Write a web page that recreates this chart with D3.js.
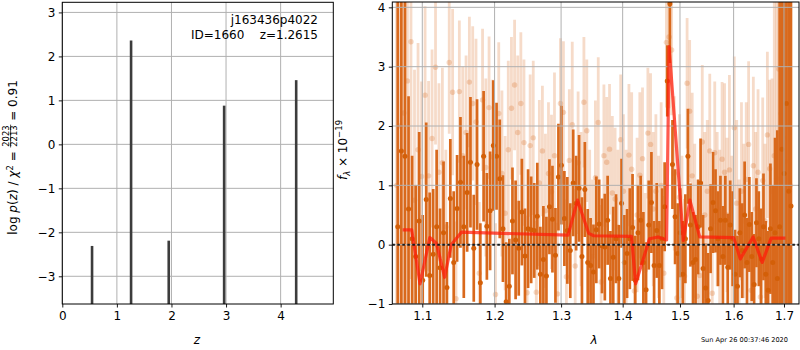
<!DOCTYPE html>
<html>
<head>
<meta charset="utf-8">
<script src="https://cdn.jsdelivr.net/npm/d3@7"></script>
<style>
  body { margin: 0; background: #fff; }
  svg { font-family: "DejaVu Sans", sans-serif; }
</style>
</head>
<body>
<script>
// ---- data ----
// redshift peaks of p(z)
const PZ_Z = [0.545, 1.26, 1.95, 2.965, 4.285];
const PZ_PEAK = [-2.31, 2.36, -2.19, 0.88, 1.46];

// spectrum, first (dark) set, regular wavelength grid
const DARK_LAM0 = 1.068;
const LAM_STEP = 0.00465;
const DARK_FLUX = [
  0.3, 1.58, 1.49, 0.6, 0.1, -0.2, 0.4, -0.6, 0.76, -0.52,
  -0.16, 0.3, -0.39, 0.2, -0.72, 0.78, -0.3, 0.61, 1.05, 0.3,
  0.88, 1.39, -0.06, 1.35, -0.64, 1.49, 0.31, 0.57, 1.67, 1.49,
  1.11, 0.27, -0.96, -0.7, 0.4, 0.08, -0.06, 0.55, -0.19, 0.27,
  0.25, 0.24, 0.48, -0.5, -0.25, -0.53, 0.64, 0.43, -0.18, 1.14,
  1.34, 0.44, 0.24, -0.1, 1.04, 0.7, 0.95, -0.2, 0.93, -0.3,
  -0.35, -0.46, 0.25, 0.35, -0.02, -0.04, 0.41, -0.57, -0.21, 0.1,
  -0.57, 0.7, -0.3, -0.15, 0.1, 0.29, -0.6, 0.2, 0.41, -0.3,
  -0.76, 0.33, 0.71, -0.35, 0.24, -0.35, 0.1, 0.64, 2.76, 4.06,
  1.35, 0.47, -0.15, 0.2, -0.5, 0.1, 1.49, 0.33, -0.3, -0.25,
  0.3, 1.04, -0.4, -0.73, -0.94, 0.27, 0.71, 0.57, 0.1, 0.41,
  -0.2, 0.41, -0.38, 0.33, 0.1, -0.5, -0.7, 0.2, -0.1, 0.5,
  -0.3, 0.34, -0.2, -0.67, 0.37, 0.1, -0.24, 0.3, -0.5, -0.77,
  0.27, -0.3, 0.2, -0.57, 0.3, 1.61, 1.2, 2.38, 0.9, 0.65
];
const DARK_ERR = [
  9, 9, 9, 1.9, 1.4, 1.2, 1.5, 1.1, 1.3, 1.4,
  1.1, 1.3, 1.0, 1.2, 1.1, 1.0, 1.2, 0.9, 1.1, 1.2,
  1.0, 1.1, 0.9, 1.1, 1.0, 1.1, 0.9, 1.0, 1.1, 0.9,
  1.0, 0.9, 1.0, 0.8, 0.9, 1.0, 0.8, 0.9, 0.8, 1.0,
  0.9, 0.8, 0.9, 0.8, 0.9, 1.0, 0.8, 0.9, 0.8, 0.9,
  1.0, 0.8, 0.9, 0.8, 0.9, 0.8, 0.9, 1.0, 0.8, 0.9,
  0.8, 0.8, 0.9, 0.75, 0.8, 0.9, 0.75, 0.8, 0.85, 0.75,
  0.9, 0.75, 0.8, 0.75, 0.85, 0.9, 0.75, 0.8, 0.75, 0.85,
  0.8, 0.75, 0.85, 0.75, 0.8, 0.75, 0.85, 0.75, 0.6, 1.0,
  0.75, 0.8, 0.85, 0.75, 0.9, 0.75, 0.8, 0.7, 0.85, 0.75,
  0.8, 0.75, 0.9, 0.75, 0.8, 0.75, 0.85, 0.7, 0.8, 0.75,
  0.85, 0.75, 0.9, 0.75, 0.8, 0.75, 0.85, 0.75, 0.8, 0.9,
  0.75, 0.8, 0.75, 0.85, 0.75, 0.8, 0.85, 0.9, 0.9, 1.0,
  1.1, 1.3, 1.6, 2.5, 4, 6, 8, 9, 9, 9
];

// second (light) set, offset grid
const LIGHT_LAM0 = 1.0665;
const LIGHT_FLUX = [
  1.0, 2.0, 2.22, 2.76, 3.42, 0.75, 1.6, 1.15, 2.52, 1.16,
  1.79, 2.99, 1.22, 1.38, 0.3, 3.07, 2.57, -0.91, 2.58, 1.5,
  1.89, 2.74, 2.38, 2.07, -0.48, 2.44, 1.3, 2.31, 1.48, -0.84,
  2.21, 1.2, 0.53, 1.6, 2.3, 2.69, 1.89, 2.38, 1.72, -0.81,
  1.67, 1.8, -0.8, 1.04, 1.58, 0.57, 1.2, 0.89, 1.5, -0.83,
  2.38, 2.23, -0.54, 1.42, 2.02, -0.36, 1.38, 0.6, 2.4, 1.92,
  0.4, -0.2, 1.13, 2.06, -0.63, 1.5, 1.39, 1.61, 0.87, 0.77,
  0.3, 1.77, 0.9, 0.2, 1.51, 1.27, -0.78, 0.5, 1.17, 1.45,
  -0.43, 1.88, 1.69, 0.6, 0.9, 0.3, 1.0, -0.48, 3.41, 3.5,
  3.28, 1.2, -0.9, 0.8, 0.3, -0.53, 2.72, 2.25, 1.16, 0.4,
  -0.87, -0.52, 1.73, 0.5, 0.9, 1.58, -0.82, 1.55, 0.6, 0.2,
  1.44, 1.22, 0.5, 1.26, 0.2, 1.97, 0.7, -0.2, 0.9, 0.4,
  1.1, 1.69, -0.77, 1.33, 0.6, 1.22, -0.88, 1.08, 0.4, 1.85,
  1.28, 0.9, 1.5, 1.11, 2.96, 2.21, 1.8, 1.4, 2.0, 1.0
];
const LIGHT_ERR = [
  9, 9, 9, 6, 4, 2.2, 1.8, 1.6, 1.5, 1.6,
  1.5, 1.3, 1.5, 1.6, 1.3, 1.2, 1.4, 1.3, 1.2, 1.5,
  1.3, 1.1, 1.3, 1.4, 1.2, 1.2, 1.5, 1.2, 1.3, 1.2,
  1.2, 1.4, 1.3, 1.5, 1.2, 1.1, 1.3, 1.2, 1.4, 1.3,
  1.2, 1.3, 1.2, 1.4, 1.1, 1.3, 1.2, 1.3, 1.4, 1.2,
  1.1, 1.2, 1.3, 1.2, 1.4, 1.3, 1.2, 1.3, 1.1, 1.2,
  1.2, 1.3, 1.3, 1.1, 1.3, 1.2, 1.1, 1.1, 1.3, 1.2,
  1.3, 1.1, 1.3, 1.4, 1.2, 1.3, 1.2, 1.3, 1.4, 1.2,
  1.3, 1.1, 1.2, 1.3, 1.3, 1.2, 1.4, 1.3, 1.1, 1.2,
  1.1, 1.3, 1.3, 1.4, 1.2, 1.3, 1.1, 1.2, 1.4, 1.3,
  1.3, 1.2, 1.3, 1.4, 1.2, 1.3, 1.3, 1.2, 1.3, 1.4,
  1.3, 1.5, 1.3, 1.6, 1.3, 1.2, 1.4, 1.3, 1.5, 1.3,
  1.3, 1.4, 1.3, 1.5, 1.3, 1.4, 1.3, 1.4, 1.3, 1.4,
  1.5, 1.9, 2.6, 3.5, 5, 7, 9, 9, 9, 9
];

// best-fit model
const MODEL_LAM = [1.0743, 1.086, 1.097, 1.110, 1.119, 1.130, 1.139, 1.153, 1.311, 1.326,
  1.344, 1.352, 1.415, 1.422, 1.446, 1.461, 1.470, 1.476, 1.4805, 1.506,
  1.518, 1.536, 1.600, 1.613, 1.638, 1.656, 1.674, 1.703];
const MODEL_FLUX = [0.25, 0.25, -0.66, 0.12, 0.02, -0.55, 0.0, 0.21, 0.16, 0.75,
  0.19, 0.15, 0.14, -0.66, 0.10, 0.13, 0.10, 0.08, 3.34, 0.07,
  0.75, 0.13, 0.12, -0.24, 0.13, -0.30, 0.11, 0.11];

const PZ_XTICKS = [0, 1, 2, 3, 4];
const PZ_YTICKS = [-3, -2, -1, 0, 1, 2, 3];
const SP_XTICKS = [1.1, 1.2, 1.3, 1.4, 1.5, 1.6, 1.7];
const SP_YTICKS = [-1, 0, 1, 2, 3, 4];

// ---- layout ----
const WIDTH = 800, HEIGHT = 350;
const LEFT_BOX = { x0: 62.3, x1: 333.3, y0: 2.3, y1: 304 };
const RIGHT_BOX = { x0: 392.3, x1: 799, y0: 2, y1: 304 };
const ORANGE = "#d9691c";
const ORANGE_DOT = "#d35f08";
const GRID = "#b0b0b0";
const FONT = 12;

const svg = d3.select("body").append("svg")
  .attr("width", WIDTH).attr("height", HEIGHT);

const zScale = d3.scaleLinear().domain([0, 4.965]).range([LEFT_BOX.x0, LEFT_BOX.x1]);
const pScale = d3.scaleLinear().domain([-3.63, 3.23]).range([LEFT_BOX.y1, LEFT_BOX.y0]);
const lamScale = d3.scaleLog().domain([1.061, 1.731]).range([RIGHT_BOX.x0, RIGHT_BOX.x1]);
const fScale = d3.scaleLinear().domain([-1, 4.09]).range([RIGHT_BOX.y1, RIGHT_BOX.y0]);

function drawGrid(g, box, xs, ys, xTicks, yTicks) {
  g.selectAll(".gx").data(xTicks).enter().append("line")
    .attr("x1", d => xs(d)).attr("x2", d => xs(d))
    .attr("y1", box.y0).attr("y2", box.y1)
    .attr("stroke", GRID).attr("stroke-width", 1);
  g.selectAll(".gy").data(yTicks).enter().append("line")
    .attr("x1", box.x0).attr("x2", box.x1)
    .attr("y1", d => ys(d)).attr("y2", d => ys(d))
    .attr("stroke", GRID).attr("stroke-width", 1);
}

function drawAxes(box, xs, ys, xTicks, yTicks, xFmt) {
  const ax = svg.append("g").attr("transform", `translate(0,${box.y1})`)
    .call(d3.axisBottom(xs).tickValues(xTicks).tickFormat(xFmt).tickSize(3.5).tickPadding(3.5));
  const ay = svg.append("g").attr("transform", `translate(${box.x0},0)`)
    .call(d3.axisLeft(ys).tickValues(yTicks).tickFormat(d3.format("d")).tickSize(3.5).tickPadding(3.5));
  [ax, ay].forEach(a => {
    a.select(".domain").remove();
    a.selectAll("line").attr("stroke", "#000").attr("stroke-width", 0.9);
    a.selectAll("text").attr("fill", "#000")
      .style("font-size", FONT + "px").style("font-family", "DejaVu Sans");
  });
  svg.append("rect")
    .attr("x", box.x0).attr("y", box.y0)
    .attr("width", box.x1 - box.x0).attr("height", box.y1 - box.y0)
    .attr("fill", "none").attr("stroke", "#000").attr("stroke-width", 1);
}

// ---- left panel: p(z) ----
function make_pz_panel() {
  const g = svg.append("g");
  drawGrid(g, LEFT_BOX, zScale, pScale, PZ_XTICKS, PZ_YTICKS);

  const peaks = PZ_Z.map((z, i) => ({ z: z, p: PZ_PEAK[i] }));
  g.selectAll(".spike").data(peaks).enter().append("line")
    .attr("x1", d => zScale(d.z)).attr("x2", d => zScale(d.z))
    .attr("y1", LEFT_BOX.y1).attr("y2", d => pScale(d.p))
    .attr("stroke", "#3c3c3c").attr("stroke-width", 2.6);

  drawAxes(LEFT_BOX, zScale, pScale, PZ_XTICKS, PZ_YTICKS, d3.format("d"));

  // object name / redshift
  svg.append("text").attr("x", 318).attr("y", 24).attr("text-anchor", "end")
    .style("font-size", FONT + "px").text("j163436p4022");
  svg.append("text").attr("x", 318).attr("y", 39).attr("text-anchor", "end")
    .style("font-size", FONT + "px").style("white-space", "pre")
    .text("ID=1660    z=1.2615");

  // x label
  svg.append("text").attr("x", 197).attr("y", 344).attr("text-anchor", "middle")
    .style("font-size", FONT + "px").style("font-style", "italic").text("z");

  // y label with a stacked fraction
  const lab = svg.append("g");
  const t1 = lab.append("text").style("font-size", FONT + "px").style("white-space", "pre");
  t1.append("tspan").text("log ");
  t1.append("tspan").style("font-style", "italic").text("p");
  t1.append("tspan").text("(");
  t1.append("tspan").style("font-style", "italic").text("z");
  t1.append("tspan").text(") / ");
  t1.append("tspan").style("font-style", "italic").text("χ");
  t1.append("tspan").attr("dy", -4.5).style("font-size", "8.5px").text("2");
  t1.append("tspan").attr("dy", 4.5).text(" = ");
  const w1 = t1.node().getComputedTextLength();

  const num = lab.append("text").attr("y", -8).style("font-size", "8.4px").text("2023");
  const den = lab.append("text").attr("y", 0).style("font-size", "8.4px").text("2213");
  const fw = Math.max(num.node().getComputedTextLength(), den.node().getComputedTextLength()) + 1.5;
  num.attr("x", w1 + fw / 2).attr("text-anchor", "middle");
  den.attr("x", w1 + fw / 2).attr("text-anchor", "middle");
  lab.append("line").attr("x1", w1).attr("x2", w1 + fw)
    .attr("y1", -6.7).attr("y2", -6.7).attr("stroke", "#000").attr("stroke-width", 0.7);

  const t3 = lab.append("text").attr("x", w1 + fw).style("font-size", FONT + "px")
    .style("white-space", "pre").text(" = 0.91");
  const total = w1 + fw + t3.node().getComputedTextLength();
  lab.attr("transform", `translate(17.3,${157.5 + total / 2}) rotate(-90)`);
}

// ---- right panel: spectrum ----
function make_spec_panel() {
  svg.append("clipPath").attr("id", "specclip").append("rect")
    .attr("x", RIGHT_BOX.x0).attr("y", RIGHT_BOX.y0)
    .attr("width", RIGHT_BOX.x1 - RIGHT_BOX.x0).attr("height", RIGHT_BOX.y1 - RIGHT_BOX.y0);
  const g = svg.append("g").attr("clip-path", "url(#specclip)");

  const light = LIGHT_FLUX.map((f, i) => ({ lam: LIGHT_LAM0 + i * LAM_STEP, f: f, e: LIGHT_ERR[i] }));
  const dark = DARK_FLUX.map((f, i) => ({ lam: DARK_LAM0 + i * LAM_STEP, f: f, e: DARK_ERR[i] }));

  g.selectAll(".lbar").data(light).enter().append("line")
    .attr("x1", d => lamScale(d.lam)).attr("x2", d => lamScale(d.lam))
    .attr("y1", d => fScale(d.f - d.e)).attr("y2", d => fScale(d.f + d.e))
    .attr("stroke", ORANGE).attr("stroke-opacity", 0.24).attr("stroke-width", 2.8);
  g.selectAll(".ldot").data(light).enter().append("circle")
    .attr("cx", d => lamScale(d.lam)).attr("cy", d => fScale(d.f)).attr("r", 2.7)
    .attr("fill", ORANGE).attr("fill-opacity", 0.25);

  g.selectAll(".dbar").data(dark).enter().append("line")
    .attr("x1", d => lamScale(d.lam)).attr("x2", d => lamScale(d.lam))
    .attr("y1", d => fScale(d.f - d.e)).attr("y2", d => fScale(d.f + d.e))
    .attr("stroke", ORANGE).attr("stroke-width", 2.7);
  g.selectAll(".ddot").data(dark).enter().append("circle")
    .attr("cx", d => lamScale(d.lam)).attr("cy", d => fScale(d.f)).attr("r", 2.5)
    .attr("fill", ORANGE_DOT);

  drawGrid(g, RIGHT_BOX, lamScale, fScale, SP_XTICKS, SP_YTICKS);

  const model = MODEL_LAM.map((l, i) => [l, MODEL_FLUX[i]]);
  g.append("path").datum(model)
    .attr("d", d3.line().x(d => lamScale(d[0])).y(d => fScale(d[1])))
    .attr("fill", "none").attr("stroke", "#ff1a0a").attr("stroke-opacity", 0.72)
    .attr("stroke-width", 3.2).attr("stroke-linejoin", "round");

  g.append("line")
    .attr("x1", RIGHT_BOX.x0).attr("x2", RIGHT_BOX.x1)
    .attr("y1", fScale(0)).attr("y2", fScale(0))
    .attr("stroke", "#1a1a1a").attr("stroke-width", 2).attr("stroke-dasharray", "2.6,2.4");

  drawAxes(RIGHT_BOX, lamScale, fScale, SP_XTICKS, SP_YTICKS, d3.format(".1f"));

  svg.append("text").attr("x", 594).attr("y", 344).attr("text-anchor", "middle")
    .style("font-size", FONT + "px").style("font-style", "italic").text("λ");

  const yl = svg.append("text").attr("text-anchor", "middle")
    .attr("transform", "translate(347.3,150) rotate(-90)").style("font-size", FONT + "px");
  yl.append("tspan").style("font-style", "italic").text("f");
  yl.append("tspan").attr("dy", 3).style("font-size", "8.5px").style("font-style", "italic").text("λ");
  yl.append("tspan").attr("dy", -3).text(" × 10");
  yl.append("tspan").attr("dy", -5).style("font-size", "8.5px").text("−19");

  svg.append("text").attr("x", 788).attr("y", 342.3).attr("text-anchor", "end")
    .style("font-size", "6.6px").text("Sun Apr 26 00:37:46 2020");
}

make_pz_panel();
make_spec_panel();
</script>
</body>
</html>
